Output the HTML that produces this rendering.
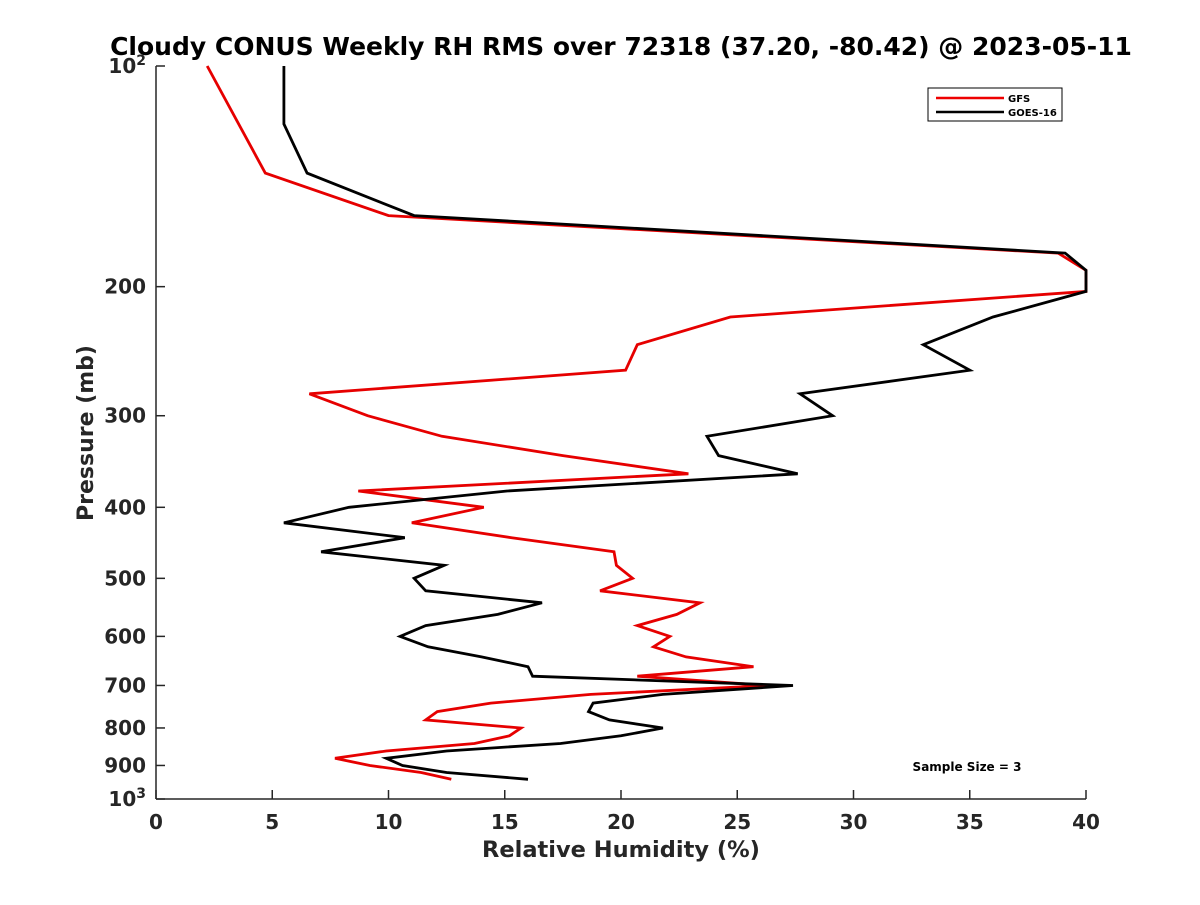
<!DOCTYPE html>
<html><head><meta charset="utf-8"><style>
body{margin:0;background:#fff}
svg text{font-family:"DejaVu Sans","Liberation Sans",sans-serif;font-weight:bold;fill:#262626}
</style></head><body>
<svg id="chart" width="1200" height="900" xmlns="http://www.w3.org/2000/svg">
<rect width="1200" height="900" fill="#fff"/>
<text x="621" y="55" font-size="25" text-anchor="middle" style="fill:#000">Cloudy CONUS Weekly RH RMS over 72318 (37.20, -80.42) @ 2023-05-11</text>
<g id="axes"></g>
<g id="series"></g>
<text x="621" y="857" font-size="22.5" text-anchor="middle">Relative Humidity (%)</text>
<text transform="translate(93,433) rotate(-90)" font-size="22" text-anchor="middle">Pressure (mb)</text>
<g>
<rect x="928" y="88" width="134" height="33" fill="#fff" stroke="#000" stroke-width="1"/>
<line x1="936" y1="98" x2="1004" y2="98" stroke="#e00" stroke-width="2.5"/>
<text x="1008" y="102" font-size="10" style="fill:#000">GFS</text>
<line x1="936" y1="112" x2="1004" y2="112" stroke="#000" stroke-width="2.5"/>
<text x="1008" y="116" font-size="10" style="fill:#000">GOES-16</text>
</g>
<text x="967" y="771" font-size="12" text-anchor="middle" style="fill:#000">Sample Size = 3</text>
</svg>
<script>
const xTicks=[0,5,10,15,20,25,30,35,40];
const yTicks=[100,200,300,400,500,600,700,800,900,1000];
const gfsP=[100,140,160,180,190,203,220,240,260,280,300,320,340,360,380,400,420,440,460,480,500,520,540,560,580,600,620,640,660,680,700,720,740,760,780,800,820,840,860,880,900,920,940];
const gfsRH=[2.2,4.7,10.0,38.8,40,40,24.7,20.7,20.2,6.6,9.1,12.3,17.5,22.9,8.7,14.1,11.0,15.3,19.7,19.8,20.5,19.1,23.4,22.4,20.7,22.1,21.4,22.8,25.7,20.7,26.3,18.7,14.4,12.1,11.6,15.7,15.2,13.7,9.9,7.7,9.2,11.4,12.7];
const goesP=[100,120,140,160,180,190,203,220,240,260,280,300,320,340,360,380,400,420,440,460,480,500,520,540,560,580,600,620,640,660,680,700,720,740,760,780,800,820,840,860,880,900,920,940];
const goesRH=[5.5,5.5,6.5,11.1,39.1,40,40,36.0,33.0,35.0,27.7,29.1,23.7,24.2,27.6,15.1,8.3,5.5,10.7,7.1,12.4,11.1,11.6,16.6,14.7,11.6,10.5,11.7,14.0,16.0,16.2,27.4,21.8,18.8,18.6,19.5,21.8,20.0,17.4,12.5,9.9,10.6,12.5,16.0];
const X0=156,X1=1086,Y0=66,Y1=799;
function xs(v){return X0+(v-0)/40*(X1-X0);}
function ys(p){return Y0+(Math.log10(p)-2)*(Y1-Y0);}
const NS='http://www.w3.org/2000/svg';
function mk(t,a,parent){const e=document.createElementNS(NS,t);for(const k in a)e.setAttribute(k,a[k]);parent.appendChild(e);return e;}
const axes=document.getElementById('axes');
const xa=mk('line',{x1:X0,y1:Y1,x2:X1,y2:Y1,stroke:'#262626','stroke-width':1.5},axes);


const ya=mk('line',{x1:X0,y1:Y0,x2:X0,y2:Y1,stroke:'#262626','stroke-width':1.5},axes);


xTicks.forEach(v=>{
  mk('line',{x1:xs(v),y1:Y1,x2:xs(v),y2:Y1-9,stroke:'#262626','stroke-width':1.5},axes);
  const t=mk('text',{x:xs(v),y:Y1+30,'font-size':20,'text-anchor':'middle'},axes);
  t.textContent=v;
  
  
});
yTicks.forEach(p=>{
  mk('line',{x1:X0,y1:ys(p),x2:X0+9,y2:ys(p),stroke:'#262626','stroke-width':1.5},axes);
  const t=mk('text',{x:X0-10,y:ys(p)+7,'font-size':20,'text-anchor':'end'},axes);
  if(p===100){t.innerHTML='10<tspan dy="-8" font-size="14">2</tspan>';}
  else if(p===1000){t.innerHTML='10<tspan dy="-8" font-size="14">3</tspan>';}
  else t.textContent=p;
  
  
});
const sg=document.getElementById('series');
function line(P,R,col,name){
  const d=P.map((p,i)=>(i?'L':'M')+xs(R[i]).toFixed(1)+','+ys(p).toFixed(1)).join('');
  const e=mk('path',{d:d,fill:'none',stroke:col,'stroke-width':2.8,'stroke-linejoin':'miter'},sg);
  
  
}
line(gfsP,gfsRH,'#e60000','gfs-line');
line(goesP,goesRH,'#000','goes16-line');
</script>
</body></html>
